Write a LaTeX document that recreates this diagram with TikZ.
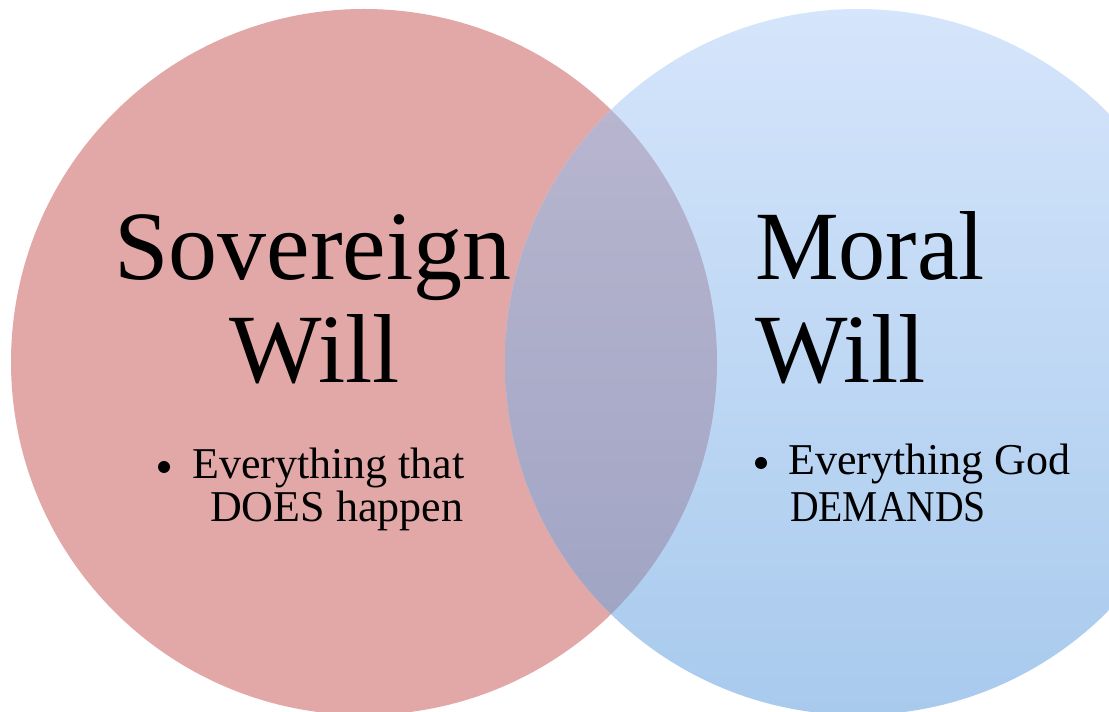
\documentclass[tikz,border=0pt]{standalone}
\usepackage{fontspec}
\setmainfont{Liberation Serif}
\usetikzlibrary{positioning}
\definecolor{sovred}{RGB}{226,168,167}
\definecolor{moraltop}{RGB}{213,229,251}
\definecolor{moralbot}{RGB}{168,202,237}
\definecolor{bothtop}{RGB}{188,184,209}
\definecolor{bothbot}{RGB}{156,162,194}
\tikzset{
  title/.style={inner sep=0pt, font=\fontsize{98}{103}\selectfont},
  item/.style={inner sep=0pt, font=\fontsize{44}{47}\selectfont},
  dot/.style={circle, fill=black, inner sep=0pt, minimum size=12pt}
}
\begin{document}
\begin{tikzpicture}[x=1pt,y=1pt]
			\useasboundingbox (0,0) rectangle (1109,712);
			% the two sets
			\coordinate (c_sov) at (364,350);
			\coordinate (c_mor) at (858,350);
			\fill[sovred] (c_sov) circle (353);
			\shade[top color=moraltop, bottom color=moralbot] (c_mor) circle (353);
			\begin{scope}
				\clip (c_sov) circle (353);
				\shade[top color=bothtop, bottom color=bothbot] (c_mor) circle (353);
			\end{scope}
			% left set
			\node[title, anchor=base] (sov_1) at (313,432) {Sovereign};
			\node[title, anchor=base] (sov_2) at (315,329) {Will};
			\node[item, anchor=base west] (sov_b) at (192,233) {Everything that};
			\node[item, anchor=base west] (sov_c) at (210,190) {DOES happen};
			\node[dot] (sov_d) at (164,245) {};
			% right set
			\node[title, anchor=base west, xscale=0.96] (mor_1) at (755,432) {Moral};
			\node[title, anchor=base west] (mor_2) at (755,329) {Will};
			\node[item, anchor=base west] (mor_b) at (788,237) {Everything God};
			\node[item, anchor=base west, xscale=0.9] (mor_c) at (790,190) {DEMANDS};
			\node[dot] (mor_d) at (761,249) {};
		\end{tikzpicture}
\end{document}
